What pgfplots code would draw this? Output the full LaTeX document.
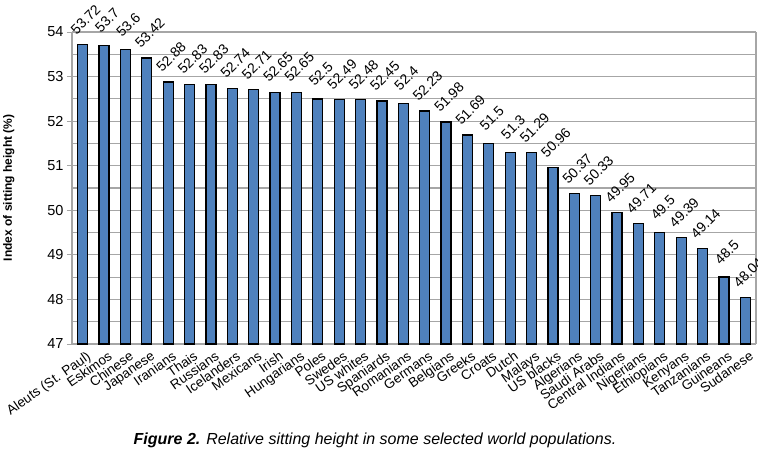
\documentclass[border=0pt]{standalone}
\usepackage{pgfplots}
\pgfplotsset{compat=1.18}
\usepackage{pgfplotstable}
\usepackage{fontspec}
\setmainfont{Liberation Sans}
\definecolor{barblue}{RGB}{79,129,189}
\definecolor{gridgray}{RGB}{166,166,166}
\pgfplotstableread{
x y
0 53.72
1 53.7
2 53.6
3 53.42
4 52.88
5 52.83
6 52.83
7 52.74
8 52.71
9 52.65
10 52.65
11 52.5
12 52.49
13 52.48
14 52.45
15 52.4
16 52.23
17 51.98
18 51.69
19 51.5
20 51.3
21 51.29
22 50.96
23 50.37
24 50.33
25 49.95
26 49.71
27 49.5
28 49.39
29 49.14
30 48.5
31 48.04
}\datatable
\begin{document}
\begin{tikzpicture}
\path[use as bounding box] (-72bp,-107bp) rectangle (686bp,344bp);
\begin{axis}[
  at={(0,0)}, anchor=south west,
  scale only axis, width=684bp, height=312bp,
  ymin=47, ymax=54,
  xmin=-0.5, xmax=31.5,
  ytick={47,48,49,50,51,52,53,54},
  minor ytick={47.5,48.5,49.5,50.5,51.5,52.5,53.5},
  ymajorgrids, yminorgrids,
  major grid style={gridgray, line width=1.2bp},
  minor grid style={gridgray, line width=1.2bp},
  axis line style={gridgray, line width=1.2bp},
  axis x line*=bottom, axis y line*=left,
  xtick=data,
  xticklabels={Aleuts (St. Paul),Eskimos,Chinese,Japanese,Iranians,Thais,Russians,Icelanders,Mexicans,Irish,Hungarians,Poles,Swedes,US whites,Spaniards,Romanians,Germans,Belgians,Greeks,Croats,Dutch,Malays,US blacks,Algerians,Saudi Arabs,Central Indians,Nigerians,Ethiopians,Kenyans,Tanzanians,Guineans,Sudanese},
  x tick label style={rotate=35, anchor=north east, font=\fontsize{13.5bp}{14bp}\selectfont, inner sep=1bp, yshift=-2bp, xshift=3bp},
  y tick label style={font=\fontsize{14.5bp}{15bp}\selectfont},
  major x tick style={draw=none},
  extra x ticks={-0.5,0.5,...,31.5},
  extra x tick labels={},
  extra x tick style={major tick length=5bp, tick style={gridgray, line width=1bp}, tick align=outside, grid=none},
  major tick length=5bp,
  tick align=outside,
  minor tick length=0pt,
  ytick style={gridgray, line width=1bp},
  /pgf/number format/assume math mode=true,
  ylabel={\textbf{Index of sitting height (\%)}},
  ylabel style={font=\fontsize{12bp}{13bp}\selectfont, at={(-54bp,0.5)}},
  bar width=10bp,
  ybar,
  nodes near coords,
  every node near coord/.append style={font=\fontsize{14bp}{15bp}\selectfont, anchor=center, yshift=25bp, xshift=3bp, rotate=45},
  point meta=explicit symbolic,
  clip=false,
]
\addplot[fill=barblue, draw=black, line width=1.3bp] table[x=x, y=y, meta=y] {\datatable};
\draw[gridgray, line width=1.2bp] (axis cs:31.5,47) -- (axis cs:31.5,54);
\end{axis}
\node[font=\fontsize{16bp}{17bp}\selectfont] at (303bp,-96bp) {\textbf{\itshape Figure 2.} \itshape Relative sitting height in some selected world populations.};
\end{tikzpicture}
\end{document}
